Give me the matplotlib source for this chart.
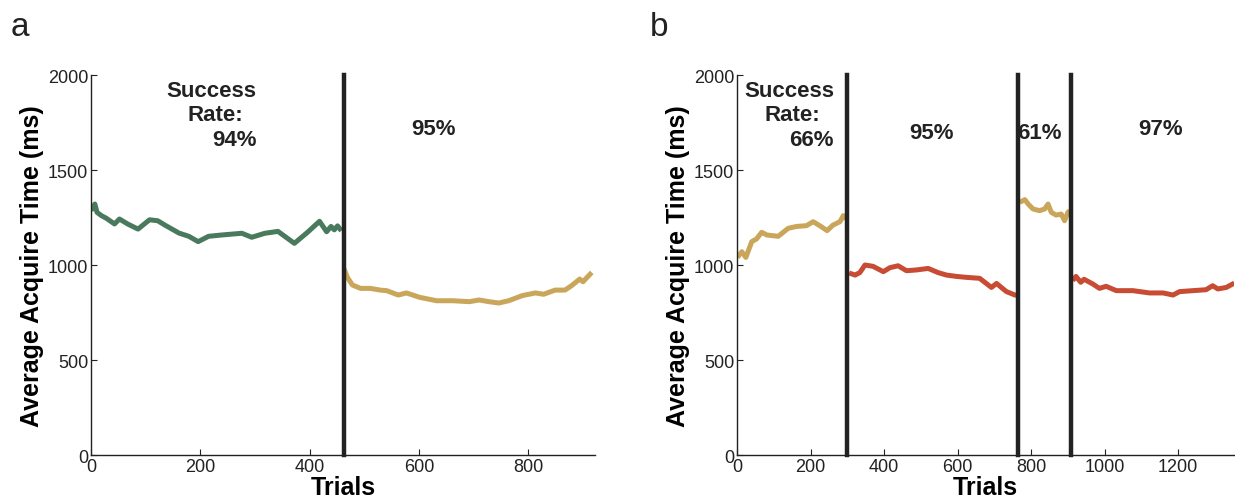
import numpy as np
import matplotlib.pyplot as plt

plt.rcParams['font.family'] = ['Liberation Sans', 'DejaVu Sans']

# ─────────────────────────────────────────────
# DATA
# ─────────────────────────────────────────────
# panel a, block 1 (green)
a1_x = [0, 7, 11, 19, 28, 43, 52, 67, 86, 107, 122, 137, 161, 179, 196, 215, 239,
        276, 294, 318, 342, 372, 396, 418, 431, 439, 445, 451, 458]
a1_y = [1286, 1321, 1277, 1260, 1246, 1216, 1242, 1216, 1189, 1238, 1233, 1207, 1168,
        1151, 1123, 1151, 1158, 1167, 1146, 1167, 1177, 1114, 1172, 1230, 1175, 1203,
        1185, 1206, 1180]
# panel a, block 2 (yellow)
a2_x = [463, 469, 478, 493, 511, 529, 541, 562, 577, 601, 632, 662, 692, 710, 728,
        746, 764, 789, 813, 828, 849, 867, 879, 894, 900, 916]
a2_y = [979, 935, 895, 877, 877, 868, 865, 842, 853, 830, 812, 812, 807, 816, 807,
        800, 812, 839, 853, 846, 868, 868, 891, 926, 912, 961]

# panel b, block 1 (yellow)
b1_x = [1, 13, 24, 40, 53, 67, 81, 112, 139, 162, 189, 207, 225, 245, 261, 280, 289, 296]
b1_y = [1040, 1070, 1040, 1123, 1137, 1172, 1158, 1151, 1193, 1203, 1207, 1228, 1207,
        1181, 1210, 1228, 1260, 1242]
# panel b, block 2 (red)
b2_x = [305, 321, 334, 348, 370, 398, 416, 438, 461, 488, 520, 547, 570, 597, 624,
        660, 674, 692, 706, 719, 733, 760]
b2_y = [958, 947, 960, 1000, 993, 965, 986, 996, 970, 974, 982, 960, 947, 940, 935,
        930, 909, 882, 903, 882, 860, 839]
# panel b, block 3 (yellow)
b3_x = [769, 783, 792, 805, 823, 837, 846, 855, 868, 882, 891, 900, 905]
b3_y = [1330, 1344, 1321, 1295, 1286, 1295, 1321, 1277, 1263, 1268, 1233, 1277, 1286]
# panel b, block 4 (red)
b4_x = [913, 922, 935, 944, 968, 986, 1004, 1032, 1077, 1122, 1159, 1186, 1204, 1240,
        1276, 1294, 1308, 1331, 1353]
b4_y = [918, 940, 909, 925, 900, 877, 888, 865, 865, 853, 853, 842, 860, 865, 870,
        891, 874, 882, 905]

a_switch = [462]
b_switch = [300, 765, 908]

a_rates = ["94%", "95%"]
b_rates = ["66%", "95%", "61%", "97%"]

GREEN = '#4a7a5e'
YELLOW = '#c9a65a'
RED = '#c84b33'
DARK = '#222222'

fig = plt.figure(figsize=(12.35, 5.02), dpi=100)
ax_a = fig.add_axes([0.0737, 0.0916, 0.4081, 0.757])
ax_b = fig.add_axes([0.5968, 0.0916, 0.4024, 0.757])


def style(ax, xmax, xticks):
    ax.set_xlim(0, xmax)
    ax.set_ylim(0, 2000)
    ax.set_xticks(xticks)
    ax.set_yticks([0, 500, 1000, 1500, 2000])
    ax.spines['top'].set_visible(False)
    ax.spines['right'].set_visible(False)
    for s in ['left', 'bottom']:
        ax.spines[s].set_linewidth(1.0)
        ax.spines[s].set_color(DARK)
    ax.tick_params(direction='in', length=4, width=0.8, labelsize=13, colors=DARK,
                   pad=2)
    ax.set_xlabel('Trials', fontsize=18, fontweight='bold', labelpad=0)
    ax.set_ylabel('Average Acquire Time (ms)', fontsize=18, fontweight='bold', labelpad=3)


style(ax_a, 922, [0, 200, 400, 600, 800])
style(ax_b, 1352, [0, 200, 400, 600, 800, 1000, 1200])

LW = 3.6
ax_a.plot(a1_x, a1_y, color=GREEN, lw=LW, solid_capstyle='butt')
ax_a.plot(a2_x, a2_y, color=YELLOW, lw=LW, solid_capstyle='butt')
ax_b.plot(b1_x, b1_y, color=YELLOW, lw=LW, solid_capstyle='butt')
ax_b.plot(b2_x, b2_y, color=RED, lw=LW, solid_capstyle='butt')
ax_b.plot(b3_x, b3_y, color=YELLOW, lw=LW, solid_capstyle='butt')
ax_b.plot(b4_x, b4_y, color=RED, lw=LW, solid_capstyle='butt')

for xv in a_switch:
    ax_a.plot([xv, xv], [0, 2000], color=DARK, lw=3.2, clip_on=False)
for xv in b_switch:
    ax_b.plot([xv, xv], [0, 2000], color=DARK, lw=3.2, clip_on=False)

tk = dict(fontsize=16, fontweight='bold', ha='center', va='center', color=DARK)

# panel a annotations
ax_a.text(221, 1917, 'Success', **tk)
ax_a.text(228, 1790, 'Rate:', **tk)
ax_a.text(263, 1663, a_rates[0], **tk)
ax_a.text(627, 1717, a_rates[1], **tk)

# panel b annotations
ax_b.text(142, 1917, 'Success', **tk)
ax_b.text(150, 1790, 'Rate:', **tk)
ax_b.text(202, 1663, b_rates[0], **tk)
ax_b.text(530, 1700, b_rates[1], **tk)
ax_b.text(823, 1700, b_rates[2], **tk)
ax_b.text(1151, 1717, b_rates[3], **tk)

fig.text(0.016, 0.945, 'a', fontsize=24, va='center', ha='center', color=DARK)
fig.text(0.534, 0.945, 'b', fontsize=24, va='center', ha='center', color=DARK)

fig.savefig('out.png', dpi=100)
